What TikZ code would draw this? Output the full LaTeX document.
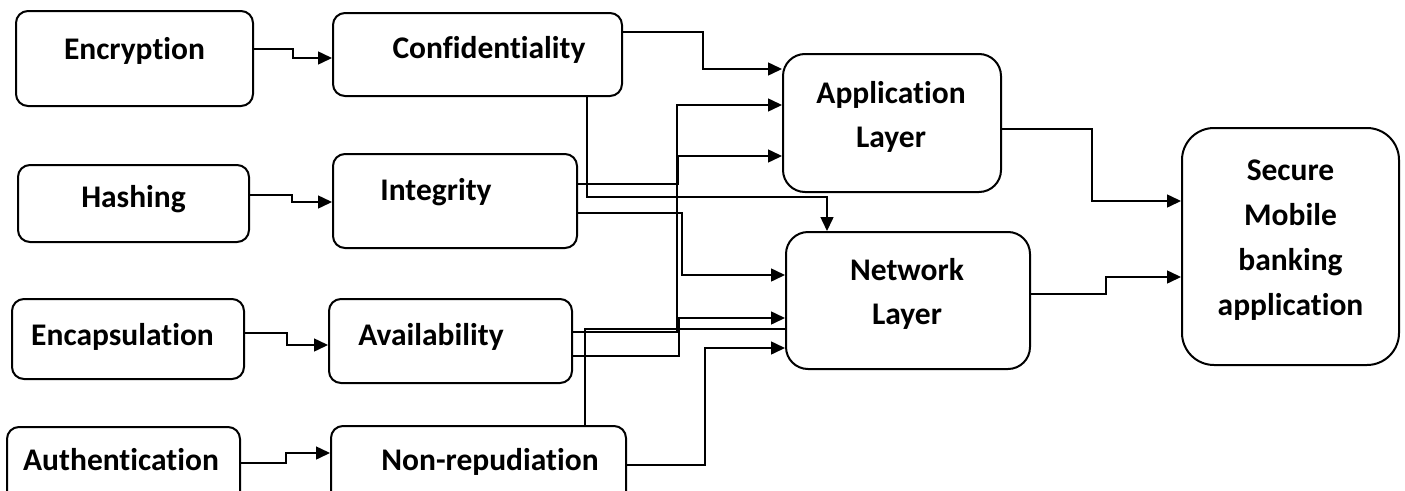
\documentclass[tikz,border=0pt]{standalone}
\usepackage{fontspec}
\setmainfont{Carlito}[Ligatures=NoCommon]
\usetikzlibrary{arrows.meta}
\newcommand{\boxtxt}[3]{\raisebox{#2pt}[0pt][0pt]{\makebox[0pt]{\hspace*{#1pt}#3}}}
\newcommand{\twolines}[2]{\begin{tabular}[b]{@{}c@{}}#1\\#2\end{tabular}}
\begin{document}
\begin{tikzpicture}[x=1pt,y=-1pt,
  blk/.style={draw=black, line width=2pt, rounded corners=12pt, inner sep=0pt,
    font=\fontsize{31.5}{44}\selectfont\bfseries},
  bigblk/.style={blk, rounded corners=22pt},
  conn/.style={draw=black, line width=1.5pt},
  arr/.style={conn, -{Triangle[length=14pt,width=13pt]}}]
\clip (0,0) rectangle (1405,490);
\fill[white] (0,0) rectangle (1405,490);
% left column
\node[blk, minimum width=237pt, minimum height=95pt] (enc) at (134.5,58.5) {\boxtxt{0}{-0.5}{Encryption}};
\node[blk, minimum width=231pt, minimum height=77pt] (hash) at (133.5,203.5) {\boxtxt{0}{-3.5}{Hashing}};
\node[blk, minimum width=232pt, minimum height=80pt] (encap) at (128,339) {\boxtxt{-11}{-6}{Encapsulation}};
\node[blk, minimum width=233pt, minimum height=80pt] (auth) at (123.5,467) {\boxtxt{-5}{-3}{Authentication}};
% second column
\node[blk, minimum width=289pt, minimum height=83pt] (conf) at (477.5,54.5) {\boxtxt{23}{-3.5}{Confidentiality}};
\node[blk, minimum width=244pt, minimum height=94pt] (integ) at (455,201) {\boxtxt{-38}{1}{Integrity}};
\node[blk, minimum width=243pt, minimum height=84pt] (avail) at (450.5,341) {\boxtxt{-39}{-4}{Availability}};
\node[blk, minimum width=295pt, minimum height=80pt] (nonrep) at (478.5,466) {\boxtxt{23}{-4}{Non-repudiation}};
% layers
\node[bigblk, minimum width=218pt, minimum height=138pt] (app) at (892,123) {\boxtxt{-2}{-24}{\twolines{Application}{Layer}}};
\node[bigblk, minimum width=244pt, minimum height=137pt] (net) at (908,300.5) {\boxtxt{-2}{-23.5}{\twolines{Network}{Layer}}};
\node[blk, rounded corners=32pt, minimum width=217pt, minimum height=237pt,
  font=\fontsize{31.5}{44.7}\selectfont\bfseries] (sec) at (1290.5,246.5)
  {\boxtxt{0}{-68.5}{\begin{tabular}[b]{@{}c@{}}Secure\\Mobile\\banking\\application\end{tabular}}};
% first-level connectors
\draw[arr] (enc.east |- 0,49) -| (293,58) -- (conf.west |- 0,58);
\draw[arr] (hash.east |- 0,195) -| (292,202) -- (integ.west |- 0,202);
\draw[arr] (encap.east |- 0,333) -| (287,345) -- (avail.west |- 0,345);
\draw[arr] (auth.east |- 0,463) -| (286,453) -- (nonrep.west |- 0,453);
% to layers
\draw[arr] (conf.east |- 0,32) -| (703,69) -- (app.west |- 0,69);
\draw[arr] (conf.south -| 587,0) |- (827,197) -- (net.north -| 827,0);
\draw[arr] (integ.east |- 0,184) -| (678,156) -- (app.west |- 0,156);
\draw[arr] (integ.east |- 0,213) -| (682,275) -- (net.west |- 0,275);
\draw[arr] (avail.east |- 0,332) -| (677,105) -- (app.west |- 0,105);
\draw[arr] (avail.east |- 0,356) -| (679,318) -- (net.west |- 0,318);
\draw[conn] (nonrep.north -| 585,0) |- (net.west |- 0,329);
\draw[arr] (nonrep.east |- 0,465) -| (705,348) -- (net.west |- 0,348);
% to secure app
\draw[arr] (app.east |- 0,129) -| (1092,201) -- (sec.west |- 0,201);
\draw[arr] (net.east |- 0,294) -| (1106,277) -- (sec.west |- 0,277);
\end{tikzpicture}
\end{document}
